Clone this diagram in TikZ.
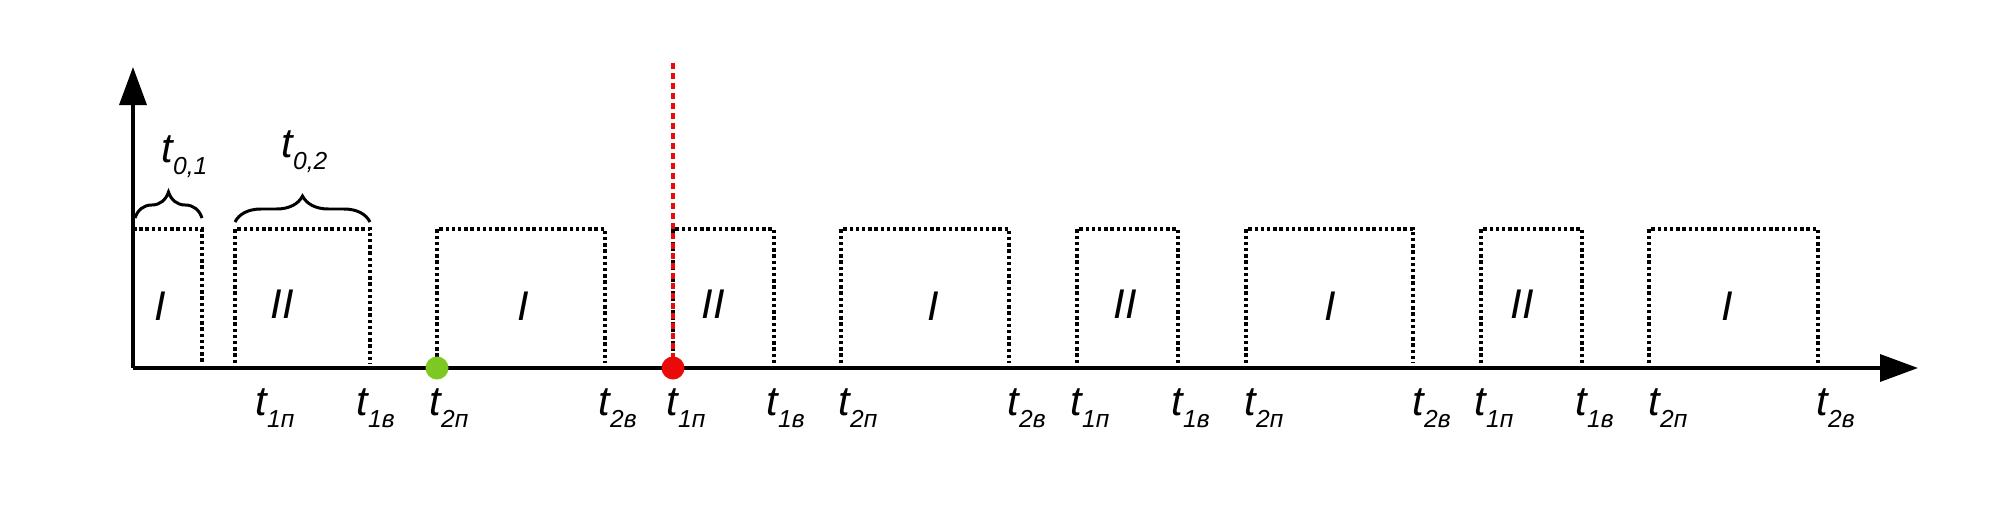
\documentclass[tikz,border=0pt]{standalone}
\usepackage{fontspec}
\setmainfont{Liberation Sans}
\usetikzlibrary{arrows.meta,decorations.pathreplacing}
\definecolor{okgreen}{RGB}{125,200,35}
\definecolor{stopred}{RGB}{235,10,10}
\tikzstyle{axis}=[line width=1pt,-{Triangle[length=0.38cm,width=0.27cm]}]
\tikzstyle{pulse}=[line width=1.25pt,dash pattern=on 0.035cm off 0.027cm]
\tikzstyle{dotmark}=[circle,inner sep=0pt,minimum size=0.23cm]
\tikzstyle{lbl}=[inner sep=0pt,anchor=base west,font=\itshape\fontsize{11.8}{13}\selectfont]
\tikzstyle{zone}=[inner sep=0pt,font=\itshape\fontsize{11.8}{13}\selectfont]
\tikzstyle{brc}=[decorate,decoration={brace,amplitude=0.26cm},line width=0.85pt]
\newcommand{\tsub}[1]{t\raisebox{-0.12cm}{\fontsize{7}{7}\selectfont #1}}

\begin{document}
\begin{tikzpicture}
\useasboundingbox (0,0) rectangle (19.99,5.13);
\coordinate (O) at (1.33,1.45); \coordinate (xend) at (19.18,1.45); \coordinate (yend) at (1.33,4.46);
% pulses
\draw[pulse] (1.33,2.84) -- (2.02,2.84) -- (2.02,1.50);
\draw[pulse] (2.35,1.50) -- (2.35,2.84) -- (3.70,2.84) -- (3.70,1.50);
\draw[pulse] (4.37,1.50) -- (4.37,2.84) -- (6.05,2.84) -- (6.05,1.50);
\draw[pulse] (6.73,1.50) -- (6.73,2.84) -- (7.74,2.84) -- (7.74,1.50);
\draw[pulse] (8.41,1.50) -- (8.41,2.84) -- (10.09,2.84) -- (10.09,1.50);
\draw[pulse] (10.77,1.50) -- (10.77,2.84) -- (11.78,2.84) -- (11.78,1.50);
\draw[pulse] (12.46,1.50) -- (12.46,2.84) -- (14.13,2.84) -- (14.13,1.50);
\draw[pulse] (14.81,1.50) -- (14.81,2.84) -- (15.82,2.84) -- (15.82,1.50);
\draw[pulse] (16.49,1.50) -- (16.49,2.84) -- (18.18,2.84) -- (18.18,1.50);
\node[zone] (z1) at (1.60,2.07) {I}; \node[zone] (z2) at (2.82,2.09) {II};
\node[zone] (z3) at (5.23,2.07) {I}; \node[zone] (z4) at (7.13,2.09) {II};
\node[zone] (z5) at (9.33,2.07) {I}; \node[zone] (z6) at (11.25,2.09) {II};
\node[zone] (z7) at (13.30,2.07) {I}; \node[zone] (z8) at (15.22,2.09) {II};
\node[zone] (z9) at (17.27,2.07) {I};
% axes
\draw[axis] (O) -- (xend);
\draw[axis] (O) -- (yend);
\coordinate (rtop) at (6.73,4.50);
\node[dotmark] (rdot) at (6.73,1.45) {};
\draw[stopred,line width=1.2pt,dash pattern=on 0.06cm off 0.04cm] (rtop) -- (rdot.center);
\node[dotmark,fill=stopred] at (rdot) {};
\node[dotmark,fill=okgreen] (gdot) at (4.37,1.45) {};
% braces
\draw[brc] (1.35,2.95) -- (2.02,2.95);
\draw[brc] (2.35,2.91) -- (3.70,2.91);
\node[lbl] (t01) at (1.61,3.51) {\tsub{0,1}};
\node[lbl] (t02) at (2.81,3.56) {\tsub{0,2}};
% time labels
\node[lbl] (a1) at (2.55,0.98) {\tsub{1п}};
\node[lbl] (a2) at (3.56,0.98) {\tsub{1в}};
\node[lbl] (a3) at (4.29,0.98) {\tsub{2п}};
\node[lbl] (a4) at (5.98,0.98) {\tsub{2в}};
\node[lbl] (a5) at (6.66,0.98) {\tsub{1п}};
\node[lbl] (a6) at (7.66,0.98) {\tsub{1в}};
\node[lbl] (a7) at (8.38,0.98) {\tsub{2п}};
\node[lbl] (a8) at (10.07,0.98) {\tsub{2в}};
\node[lbl] (a9) at (10.70,0.98) {\tsub{1п}};
\node[lbl] (a10) at (11.71,0.98) {\tsub{1в}};
\node[lbl] (a11) at (12.44,0.98) {\tsub{2п}};
\node[lbl] (a12) at (14.12,0.98) {\tsub{2в}};
\node[lbl] (a13) at (14.74,0.98) {\tsub{1п}};
\node[lbl] (a14) at (15.75,0.98) {\tsub{1в}};
\node[lbl] (a15) at (16.48,0.98) {\tsub{2п}};
\node[lbl] (a16) at (18.16,0.98) {\tsub{2в}};
\end{tikzpicture}
\end{document}
